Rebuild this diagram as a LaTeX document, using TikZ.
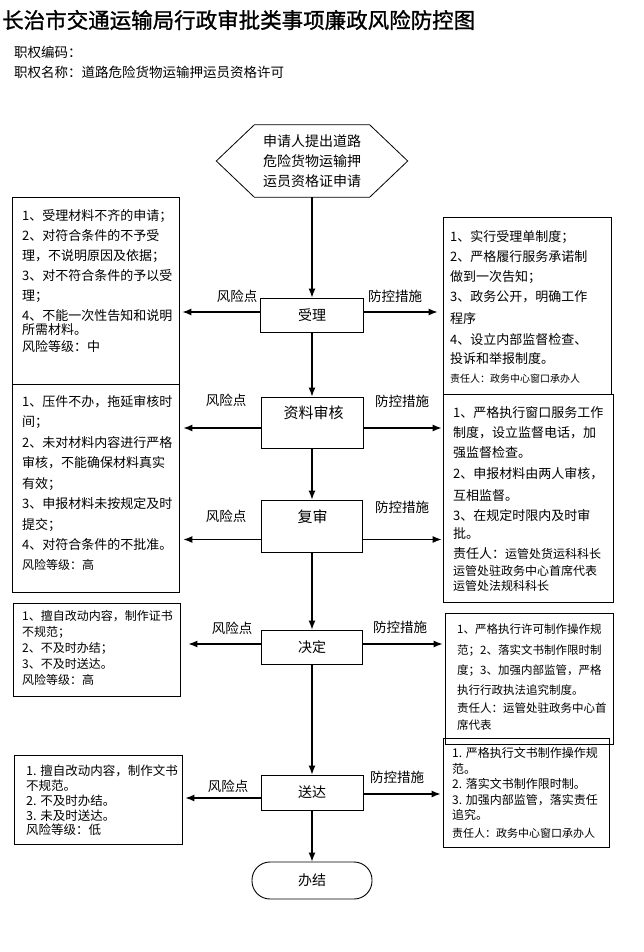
\documentclass[tikz,border=0pt]{standalone}
\usepackage{fontspec}
\setmainfont{Noto Sans CJK SC}
\newfontfamily\titlefont{Noto Sans CJK SC}[FakeBold=1.2]
\usetikzlibrary{arrows.meta}
\newcommand{\fsz}[2]{\fontsize{#1}{#2}\selectfont}
\begin{document}
\begin{tikzpicture}[x=1pt,y=-1pt,
  box/.style={draw, line width=0.8pt, inner sep=0pt},
  stepbox/.style={draw, line width=0.9pt, inner sep=0pt, font=\fsz{14}{16}},
  steptxt/.style={inner sep=0pt, font=\fsz{15}{17}},
  txt/.style={inner sep=0pt, anchor=north west, align=left},
  lab/.style={inner sep=0pt, font=\fsz{13.5}{16}},
  arr/.style={line width=1.2pt, -{Latex[length=9pt,width=7pt]}}]
\useasboundingbox (0,0) rectangle (643,952);

% header
\node[inner sep=0pt, anchor=west, font=\titlefont\fsz{21.5}{24}] (title) at (2,20) {长治市交通运输局行政审批类事项廉政风险防控图};
\node[inner sep=0pt, anchor=west, font=\fsz{13.5}{16}] (code) at (14,52) {职权编码：};
\node[inner sep=0pt, anchor=west, font=\fsz{13.5}{16}] (name) at (14,72) {职权名称：道路危险货物运输押运员资格许可};

% start hexagon
\node[inner sep=0pt, minimum width=115pt, minimum height=72pt, align=center, font=\fsz{14}{20}] (start) at (312,161) {申请人提出道路\\危险货物运输押\\运员资格证申请};
\draw[line width=0.8pt] (start.north west) -- (start.north east) -- ([xshift=38pt]start.east) -- (start.south east) -- (start.south west) -- ([xshift=-38pt]start.west) -- cycle;

% step boxes
\node[stepbox, minimum width=103pt, minimum height=34pt] (shouli) at (312,315) {受理};
\node[stepbox, minimum width=102pt, minimum height=51pt] (ziliao) at (312,422.5) {};
\node[steptxt] (ziliaot) at (313.5,413) {资料审核};
\node[stepbox, minimum width=101pt, minimum height=52pt] (fushen) at (312,526) {};
\node[steptxt] (fushent) at (312.5,517) {复审};
\node[stepbox, minimum width=101pt, minimum height=34pt] (juedin) at (312,647) {决定};
\node[stepbox, minimum width=102pt, minimum height=35pt] (songda) at (312,792.5) {送达};
\node[stepbox, minimum width=120pt, minimum height=37pt, rounded corners=18pt] (banjie) at (312,880.5) {办结};

% left boxes
\node[box, minimum width=167pt, minimum height=187pt] (l1) at (95.5,290.5) {};
\node[box, minimum width=167pt, minimum height=208pt] (l2) at (95.5,488) {};
\node[box, minimum width=167pt, minimum height=93pt] (l3) at (96.5,649.5) {};
\node[box, minimum width=168pt, minimum height=89pt] (l4) at (98,799.5) {};

% right boxes
\node[box, minimum width=168pt, minimum height=177pt] (r1) at (527,305.5) {};
\node[box, minimum width=170pt, minimum height=208pt] (r2) at (528,498) {};
\node[box, minimum width=168pt, minimum height=131pt] (r3) at (529,678.5) {};
\node[box, minimum width=166pt, minimum height=109pt] (r4) at (526,792.5) {};

% left texts
\node[txt, font=\fsz{13}{20}] (l1t) at (22,209) {1、受理材料不齐的申请；\\2、对符合条件的不予受\\理，不说明原因及依据；\\3、对不符合条件的予以受\\理；\\4、不能一次性告知和说明\\[-6pt]所需材料。\\[-3pt]风险等级：中};
\node[txt, font=\fsz{13}{20.5}] (l2t) at (22,395) {1、压件不办，拖延审核时\\间；\\2、未对材料内容进行严格\\审核，不能确保材料真实\\有效；\\3、申报材料未按规定及时\\提交；\\4、对符合条件的不批准。\\[-1pt]{\fsz{12}{20}风险等级：高}};
\node[txt, font=\fsz{12}{16}] (l3t) at (22,610.5) {1、擅自改动内容，制作证书\\不规范；\\2、不及时办结；\\3、不及时送达。\\风险等级：高};
\node[txt, font=\fsz{12.5}{14.8}] (l4t) at (26,765) {1. 擅自改动内容，制作文书\\不规范。\\2. 不及时办结。\\3. 未及时送达。\\风险等级：低};

% right texts
\node[txt, font=\fsz{13}{20}] (r1t) at (450,230) {1、实行受理单制度；\\2、严格履行服务承诺制\\做到一次告知；\\3、政务公开，明确工作\\[2pt]程序\\[1pt]4、设立内部监督检查、\\[-1pt]投诉和举报制度。\\[-1pt]{\fsz{10}{12}责任人：政务中心窗口承办人}};
\node[txt, font=\fsz{13}{20}] (r2t) at (453,406) {1、严格执行窗口服务工作\\制度，设立监督电话，加\\强监督检查。\\[1pt]2、申报材料由两人审核，\\[2pt]互相监督。\\3、在规定时限内及时审\\[-2pt]批。\\责任人：{\fsz{12}{14}运管处货运科科长}\\[-3pt]{\fsz{12}{14}运管处驻政务中心首席代表}\\[-5pt]{\fsz{12}{14}运管处法规科科长}};
\node[txt, font=\fsz{11.5}{20}] (r3t) at (457,624) {1、严格执行许可制作操作规\\[1pt]范；2、落实文书制作限时制\\度；3、加强内部监管，严格\\执行行政执法追究制度。\\[-2pt]责任人：运管处驻政务中心首\\[-3pt]席代表};
\node[txt, font=\fsz{12}{15.5}] (r4t) at (452,747.5) {1. 严格执行文书制作操作规\\范。\\2. 落实文书制作限时制。\\3. 加强内部监管，落实责任\\追究。\\[2pt]{\fsz{11}{13}责任人：政务中心窗口承办人}};

% main flow
\draw[arr] (start.south) -- (shouli.north);
\draw[arr] (shouli.south) -- (ziliao.north);
\draw[arr] (ziliao.south) -- (fushen.north);
\draw[arr] (fushen.south) -- (juedin.north);
\draw[arr] (juedin.south) -- (songda.north);
\draw[arr] (songda.south) -- (banjie.north);

% side arrows
\draw[arr] ([yshift=3pt]shouli.west) -- ([yshift=3pt,xshift=3pt]shouli.west -| l1.east);
\draw[arr] ([yshift=3pt]shouli.east) -- ([yshift=3pt,xshift=-5pt]shouli.east -| r1.west);
\draw[arr] ([yshift=-5.5pt]ziliao.west) -- ([yshift=-5.5pt,xshift=4pt]ziliao.west -| l2.east);
\draw[arr] ([yshift=-5.5pt]ziliao.east) -- ([yshift=-5.5pt,xshift=-1pt]ziliao.east -| r2.west);
\draw[arr] ([yshift=-13.5pt]fushen.west) -- ([yshift=-13.5pt,xshift=4pt]fushen.west -| l2.east);
\draw[arr] ([yshift=-13.5pt]fushen.east) -- ([yshift=-13.5pt,xshift=-1pt]fushen.east -| r2.west);
\draw[arr] ([yshift=3pt]juedin.west) -- ([yshift=3pt,xshift=8pt]juedin.west -| l3.east);
\draw[arr] ([yshift=3pt]juedin.east) -- ([yshift=3pt,xshift=-2pt]juedin.east -| r3.west);
\draw[arr] ([yshift=-5.5pt]songda.west) -- ([yshift=-5.5pt,xshift=3pt]songda.west -| l4.east);
\draw[arr] ([yshift=-1.5pt]songda.east) -- ([yshift=-1.5pt,xshift=-2pt]songda.east -| r4.west);

% labels
\node[lab] (k1) at (237,296) {风险点};
\node[lab] (f1) at (395,296) {防控措施};
\node[lab] (k2) at (226,400) {风险点};
\node[lab] (f2) at (402,401) {防控措施};
\node[lab] (k3) at (226,516) {风险点};
\node[lab] (f3) at (402,507) {防控措施};
\node[lab] (k4) at (232,628) {风险点};
\node[lab] (f4) at (400,627) {防控措施};
\node[lab] (k5) at (228,786) {风险点};
\node[lab] (f5) at (397,777) {防控措施};
\end{tikzpicture}
\end{document}
